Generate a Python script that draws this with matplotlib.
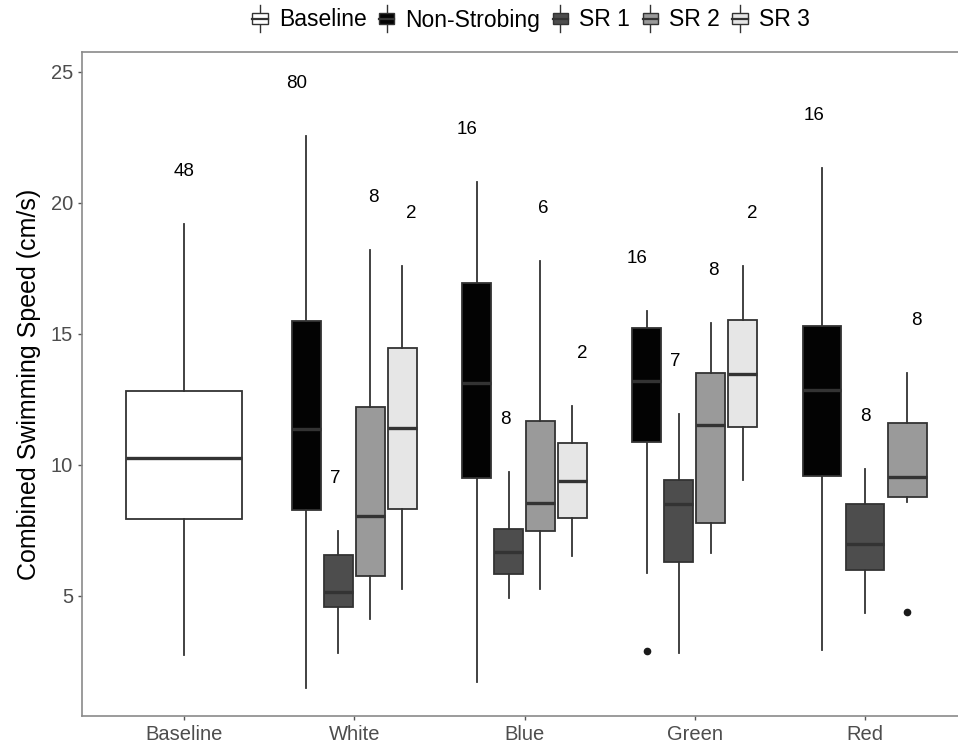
import numpy as np
import matplotlib
matplotlib.use("Agg")
import matplotlib.pyplot as plt
from matplotlib.patches import Rectangle
from matplotlib.lines import Line2D
from matplotlib.legend_handler import HandlerBase

plt.rcParams['font.family'] = ['Liberation Sans', 'DejaVu Sans']

categories = ["Baseline", "White", "Blue", "Green", "Red"]
series = ["Baseline", "Non-Strobing", "SR 1", "SR 2", "SR 3"]

# per-series box statistics, one entry per category where the series is present
baseline_cats = ["Baseline"]
baseline_whislo = [2.75]
baseline_q1 = [7.94]
baseline_med = [10.26]
baseline_q3 = [12.84]
baseline_whishi = [19.2]
baseline_n = [48]
baseline_fliers = [[]]

ns_cats = ["White", "Blue", "Green", "Red"]
ns_whislo = [1.5, 1.73, 5.89, 2.94]
ns_q1 = [8.28, 9.49, 10.89, 9.59]
ns_med = [11.37, 13.12, 13.22, 12.86]
ns_q3 = [15.51, 16.93, 15.22, 15.29]
ns_whishi = [22.56, 20.79, 15.88, 21.34]
ns_n = [80, 16, 16, 16]
ns_fliers = [[], [], [2.9], []]

sr1_cats = ["White", "Blue", "Green", "Red"]
sr1_whislo = [2.81, 4.94, 2.84, 4.34]
sr1_q1 = [4.59, 5.84, 6.3, 5.99]
sr1_med = [5.14, 6.69, 8.5, 6.98]
sr1_q3 = [6.56, 7.55, 9.43, 8.52]
sr1_whishi = [7.48, 9.72, 11.95, 9.86]
sr1_n = [7, 8, 7, 8]
sr1_fliers = [[], [], [], []]

sr2_cats = ["White", "Blue", "Green", "Red"]
sr2_whislo = [4.11, 5.27, 6.63, 8.6]
sr2_q1 = [5.76, 7.49, 7.77, 8.79]
sr2_med = [8.05, 8.56, 11.53, 9.54]
sr2_q3 = [12.23, 11.68, 13.51, 11.6]
sr2_whishi = [18.2, 17.8, 15.41, 13.52]
sr2_n = [8, 6, 8, 8]
sr2_fliers = [[], [], [], [4.38]]

sr3_cats = ["White", "Blue", "Green"]
sr3_whislo = [5.26, 6.54, 9.43]
sr3_q1 = [8.31, 7.97, 11.45]
sr3_med = [11.4, 9.4, 13.49]
sr3_q3 = [14.48, 10.83, 15.55]
sr3_whishi = [17.6, 12.25, 17.6]
sr3_n = [2, 2, 2]
sr3_fliers = [[], [], []]

colors = {"Baseline": "#ffffff", "Non-Strobing": "#030303", "SR 1": "#4d4d4d",
          "SR 2": "#9a9a9a", "SR 3": "#e6e6e6"}
edge = "#333333"

data = {
    "Baseline": (baseline_cats, baseline_whislo, baseline_q1, baseline_med, baseline_q3, baseline_whishi, baseline_n, baseline_fliers),
    "Non-Strobing": (ns_cats, ns_whislo, ns_q1, ns_med, ns_q3, ns_whishi, ns_n, ns_fliers),
    "SR 1": (sr1_cats, sr1_whislo, sr1_q1, sr1_med, sr1_q3, sr1_whishi, sr1_n, sr1_fliers),
    "SR 2": (sr2_cats, sr2_whislo, sr2_q1, sr2_med, sr2_q3, sr2_whishi, sr2_n, sr2_fliers),
    "SR 3": (sr3_cats, sr3_whislo, sr3_q1, sr3_med, sr3_q3, sr3_whishi, sr3_n, sr3_fliers),
}

W, H = 958, 744
fig = plt.figure(figsize=(W / 100, H / 100), dpi=100)
ax = fig.add_axes([82 / W, (H - 716) / H, (967 - 82) / W, (716 - 52) / H])

dodge_box = 0.75
dodge_text = 0.9
single_width = 0.68

# groups present per category
present = {c: [s for s in series if c in data[s][0]] for c in categories}

for s in series:
    cats, wlo, q1, med, q3, whi, nn, fl = data[s]
    for i, c in enumerate(cats):
        xc = categories.index(c) + 1
        grp = present[c]
        k = len(grp)
        j = grp.index(s)
        if k == 1:
            pos = xc
            width = single_width
            tpos = xc
        else:
            slot = dodge_box / k
            pos = xc - dodge_box / 2 + slot * (j + 0.5)
            width = slot * 0.9
            tslot = dodge_text / k
            tpos = xc - dodge_text / 2 + tslot * (j + 0.5)
        stats = [dict(whislo=wlo[i], q1=q1[i], med=med[i], q3=q3[i], whishi=whi[i], fliers=fl[i])]
        ax.bxp(stats, positions=[pos], widths=width, patch_artist=True, showcaps=False,
               boxprops=dict(facecolor=colors[s], edgecolor=edge, linewidth=1.3),
               medianprops=dict(color=edge, linewidth=2.4, solid_capstyle='butt'),
               whiskerprops=dict(color=edge, linewidth=1.3),
               flierprops=dict(marker='o', markerfacecolor='#1a1a1a', markeredgecolor='#1a1a1a',
                               markersize=4.5))
        ax.text(tpos, whi[i] + 2, str(nn[i]), ha='center', va='center', fontsize=13.5, color='black')

ax.set_xlim(0.4, 5.6)
ax.set_ylim(0.42, 25.76)
ax.set_xticks(range(1, 6))
ax.set_xticklabels(categories)
ax.set_yticks([5, 10, 15, 20, 25])
ax.tick_params(axis='both', colors='#555555', labelcolor='#4d4d4d', labelsize=14.5,
               length=3, width=1)
for sp in ax.spines.values():
    sp.set_color('#8a8a8a')
    sp.set_linewidth(1.2)
ax.set_ylabel("Combined Swimming Speed (cm/s)", fontsize=18, color='black', labelpad=7)


class BoxHandler(HandlerBase):
    def create_artists(self, legend, orig_handle, xdescent, ydescent, width, height, fontsize, trans):
        fc = orig_handle.get_facecolor()
        bw = width * 0.8
        x0 = -xdescent + (width - bw) / 2
        y0 = -ydescent
        xm = x0 + bw / 2
        artists = [
            Line2D([xm, xm], [y0 - height * 0.2, y0 + height * 0.2], color=edge, lw=1.0, transform=trans),
            Line2D([xm, xm], [y0 + height * 0.8, y0 + height * 1.2], color=edge, lw=1.0, transform=trans),
            Rectangle((x0, y0 + height * 0.2), bw, height * 0.6, facecolor=fc, edgecolor=edge, lw=1.0, transform=trans),
            Line2D([x0, x0 + bw], [y0 + height * 0.5, y0 + height * 0.5], color=edge, lw=1.6, transform=trans),
        ]
        return artists


handles = [Rectangle((0, 0), 1, 1, facecolor=colors[s]) for s in series]
fig.legend(handles, series, handler_map={Rectangle: BoxHandler()}, loc='center',
           bbox_to_anchor=(530 / W, 1 - 20 / H), ncol=5, frameon=False, fontsize=16.5,
           handlelength=0.85, handleheight=0.9, handletextpad=0.4, columnspacing=0.45,
           borderpad=0)

fig.savefig("out.png", dpi=100)
